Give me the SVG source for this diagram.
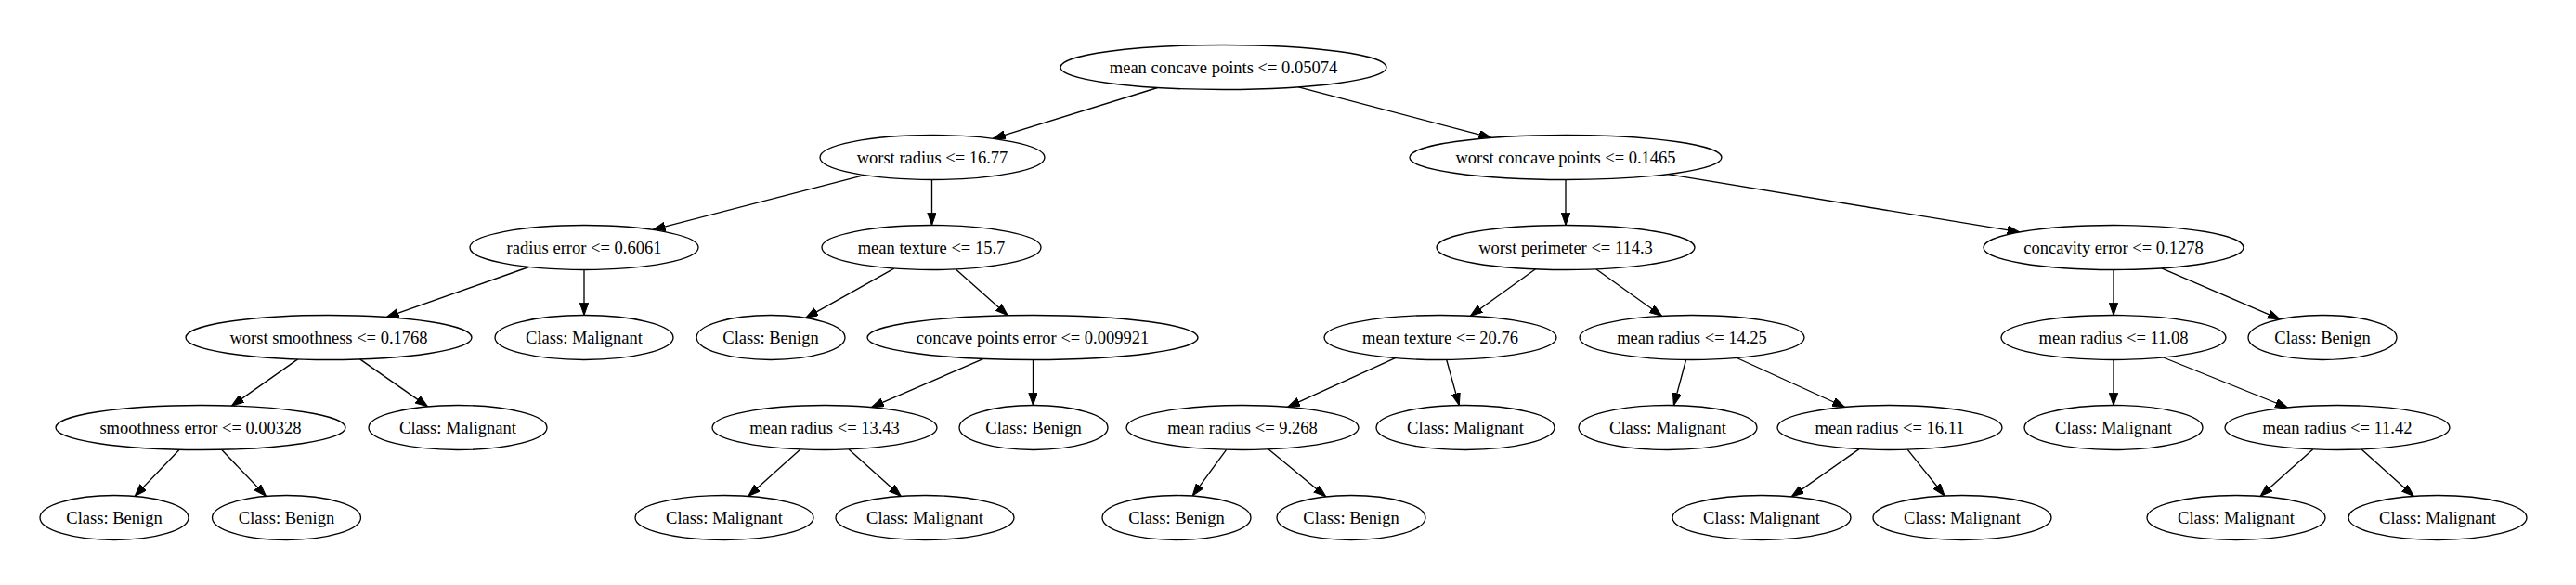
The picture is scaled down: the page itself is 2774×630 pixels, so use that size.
<svg xmlns="http://www.w3.org/2000/svg" width="2774" height="630" viewBox="0 0 2774 630">
<style>
.n ellipse{fill:#fff;stroke:#000;stroke-width:1.33}
.n text{font-family:"Liberation Serif","Times New Roman",serif;font-size:18.5px;text-anchor:middle;fill:#000}
#edges line{stroke:#000;stroke-width:1.33;marker-end:url(#arr)}
</style>
<defs>
<marker id="arr" markerUnits="userSpaceOnUse" markerWidth="14" markerHeight="10" refX="13.3" refY="4.67" orient="auto">
<path d="M0,0 L13.3,4.67 L0,9.33 z" fill="#000" stroke="#000" stroke-width="1"/>
</marker>
</defs>
<rect width="2774" height="630" fill="#fff"/>
<g id="edges">
<line x1="1246.6" y1="94.5" x2="1069.3" y2="149.3"/>
<line x1="1398.4" y1="93.8" x2="1605.9" y2="148.4"/>
<line x1="930.4" y1="188.6" x2="703.1" y2="247.3"/>
<line x1="1003.5" y1="193.5" x2="1003.5" y2="242.5"/>
<line x1="1686" y1="193.5" x2="1686" y2="242.5"/>
<line x1="1796.2" y1="187.6" x2="2175" y2="249.9"/>
<line x1="569.5" y1="287.5" x2="416.2" y2="341.6"/>
<line x1="629" y1="290.5" x2="629" y2="339.5"/>
<line x1="962.8" y1="289.1" x2="867.7" y2="342.3"/>
<line x1="1029.3" y1="289.9" x2="1085.3" y2="339.8"/>
<line x1="1653.5" y1="289.8" x2="1583.3" y2="340.3"/>
<line x1="1718.7" y1="289.8" x2="1789.6" y2="340.4"/>
<line x1="2276" y1="290.5" x2="2276" y2="339.5"/>
<line x1="2327.7" y1="288.8" x2="2455.3" y2="343.8"/>
<line x1="320.7" y1="386.9" x2="249.4" y2="437.1"/>
<line x1="387.6" y1="386.9" x2="460.6" y2="437.9"/>
<line x1="1059.1" y1="386.4" x2="938.4" y2="438.7"/>
<line x1="1112.5" y1="387.5" x2="1112.5" y2="436.5"/>
<line x1="1502.4" y1="385.6" x2="1386.6" y2="438.4"/>
<line x1="1557.7" y1="387.5" x2="1571.3" y2="436.6"/>
<line x1="1815.6" y1="387.5" x2="1802.4" y2="436.6"/>
<line x1="1870.3" y1="385.5" x2="1986.7" y2="438.5"/>
<line x1="2276" y1="387.5" x2="2276" y2="436.5"/>
<line x1="2329.5" y1="385" x2="2463.5" y2="439"/>
<line x1="193.2" y1="484.2" x2="145.1" y2="534.4"/>
<line x1="238.6" y1="484.2" x2="286.5" y2="534.4"/>
<line x1="861.9" y1="483.9" x2="805.7" y2="534.4"/>
<line x1="914.1" y1="483.9" x2="970.3" y2="534.4"/>
<line x1="1320.6" y1="484.3" x2="1284.2" y2="534.1"/>
<line x1="1366.2" y1="483.9" x2="1427.8" y2="534.9"/>
<line x1="2002.1" y1="483.6" x2="1929.2" y2="534.9"/>
<line x1="2054.1" y1="484.2" x2="2094.1" y2="534"/>
<line x1="2490.7" y1="483.9" x2="2434" y2="534.4"/>
<line x1="2543.1" y1="483.9" x2="2599.3" y2="534.4"/>
</g>
<g id="n0" class="n"><ellipse cx="1317.5" cy="72.5" rx="175.5" ry="24"/><text x="1317.5" y="79">mean concave points &lt;= 0.05074</text></g>
<g id="n1" class="n"><ellipse cx="1004" cy="169.5" rx="121" ry="24"/><text x="1004" y="176">worst radius &lt;= 16.77</text></g>
<g id="n2" class="n"><ellipse cx="1686" cy="169.5" rx="168" ry="24"/><text x="1686" y="176">worst concave points &lt;= 0.1465</text></g>
<g id="n3" class="n"><ellipse cx="629" cy="266.5" rx="123" ry="24"/><text x="629" y="273">radius error &lt;= 0.6061</text></g>
<g id="n4" class="n"><ellipse cx="1003" cy="266.5" rx="118" ry="24"/><text x="1003" y="273">mean texture &lt;= 15.7</text></g>
<g id="n5" class="n"><ellipse cx="1686" cy="266.5" rx="139" ry="24"/><text x="1686" y="273">worst perimeter &lt;= 114.3</text></g>
<g id="n6" class="n"><ellipse cx="2276" cy="266.5" rx="140" ry="24"/><text x="2276" y="273">concavity error &lt;= 0.1278</text></g>
<g id="n7" class="n"><ellipse cx="354" cy="363.5" rx="154" ry="24"/><text x="354" y="370">worst smoothness &lt;= 0.1768</text></g>
<g id="n8" class="n"><ellipse cx="629" cy="363.5" rx="96" ry="24"/><text x="629" y="370">Class: Malignant</text></g>
<g id="n9" class="n"><ellipse cx="830" cy="363.5" rx="80" ry="24"/><text x="830" y="370">Class: Benign</text></g>
<g id="n10" class="n"><ellipse cx="1112" cy="363.5" rx="178" ry="24"/><text x="1112" y="370">concave points error &lt;= 0.009921</text></g>
<g id="n11" class="n"><ellipse cx="1551" cy="363.5" rx="125" ry="24"/><text x="1551" y="370">mean texture &lt;= 20.76</text></g>
<g id="n12" class="n"><ellipse cx="1822" cy="363.5" rx="121" ry="24"/><text x="1822" y="370">mean radius &lt;= 14.25</text></g>
<g id="n13" class="n"><ellipse cx="2276" cy="363.5" rx="121" ry="24"/><text x="2276" y="370">mean radius &lt;= 11.08</text></g>
<g id="n14" class="n"><ellipse cx="2501" cy="363.5" rx="80" ry="24"/><text x="2501" y="370">Class: Benign</text></g>
<g id="n15" class="n"><ellipse cx="216" cy="460.5" rx="156" ry="24"/><text x="216" y="467">smoothness error &lt;= 0.00328</text></g>
<g id="n16" class="n"><ellipse cx="493" cy="460.5" rx="96" ry="24"/><text x="493" y="467">Class: Malignant</text></g>
<g id="n17" class="n"><ellipse cx="888" cy="460.5" rx="121" ry="24"/><text x="888" y="467">mean radius &lt;= 13.43</text></g>
<g id="n18" class="n"><ellipse cx="1113" cy="460.5" rx="80" ry="24"/><text x="1113" y="467">Class: Benign</text></g>
<g id="n19" class="n"><ellipse cx="1338" cy="460.5" rx="125" ry="24"/><text x="1338" y="467">mean radius &lt;= 9.268</text></g>
<g id="n20" class="n"><ellipse cx="1578" cy="460.5" rx="96" ry="24"/><text x="1578" y="467">Class: Malignant</text></g>
<g id="n21" class="n"><ellipse cx="1796" cy="460.5" rx="96" ry="24"/><text x="1796" y="467">Class: Malignant</text></g>
<g id="n22" class="n"><ellipse cx="2035" cy="460.5" rx="121" ry="24"/><text x="2035" y="467">mean radius &lt;= 16.11</text></g>
<g id="n23" class="n"><ellipse cx="2276" cy="460.5" rx="96" ry="24"/><text x="2276" y="467">Class: Malignant</text></g>
<g id="n24" class="n"><ellipse cx="2517" cy="460.5" rx="121" ry="24"/><text x="2517" y="467">mean radius &lt;= 11.42</text></g>
<g id="n25" class="n"><ellipse cx="123" cy="557.5" rx="80" ry="24"/><text x="123" y="564">Class: Benign</text></g>
<g id="n26" class="n"><ellipse cx="308.5" cy="557.5" rx="80" ry="24"/><text x="308.5" y="564">Class: Benign</text></g>
<g id="n27" class="n"><ellipse cx="780" cy="557.5" rx="96" ry="24"/><text x="780" y="564">Class: Malignant</text></g>
<g id="n28" class="n"><ellipse cx="996" cy="557.5" rx="96" ry="24"/><text x="996" y="564">Class: Malignant</text></g>
<g id="n29" class="n"><ellipse cx="1267" cy="557.5" rx="80" ry="24"/><text x="1267" y="564">Class: Benign</text></g>
<g id="n30" class="n"><ellipse cx="1455" cy="557.5" rx="80" ry="24"/><text x="1455" y="564">Class: Benign</text></g>
<g id="n31" class="n"><ellipse cx="1897" cy="557.5" rx="96" ry="24"/><text x="1897" y="564">Class: Malignant</text></g>
<g id="n32" class="n"><ellipse cx="2113" cy="557.5" rx="96" ry="24"/><text x="2113" y="564">Class: Malignant</text></g>
<g id="n33" class="n"><ellipse cx="2408" cy="557.5" rx="96" ry="24"/><text x="2408" y="564">Class: Malignant</text></g>
<g id="n34" class="n"><ellipse cx="2625" cy="557.5" rx="96" ry="24"/><text x="2625" y="564">Class: Malignant</text></g>
</svg>
